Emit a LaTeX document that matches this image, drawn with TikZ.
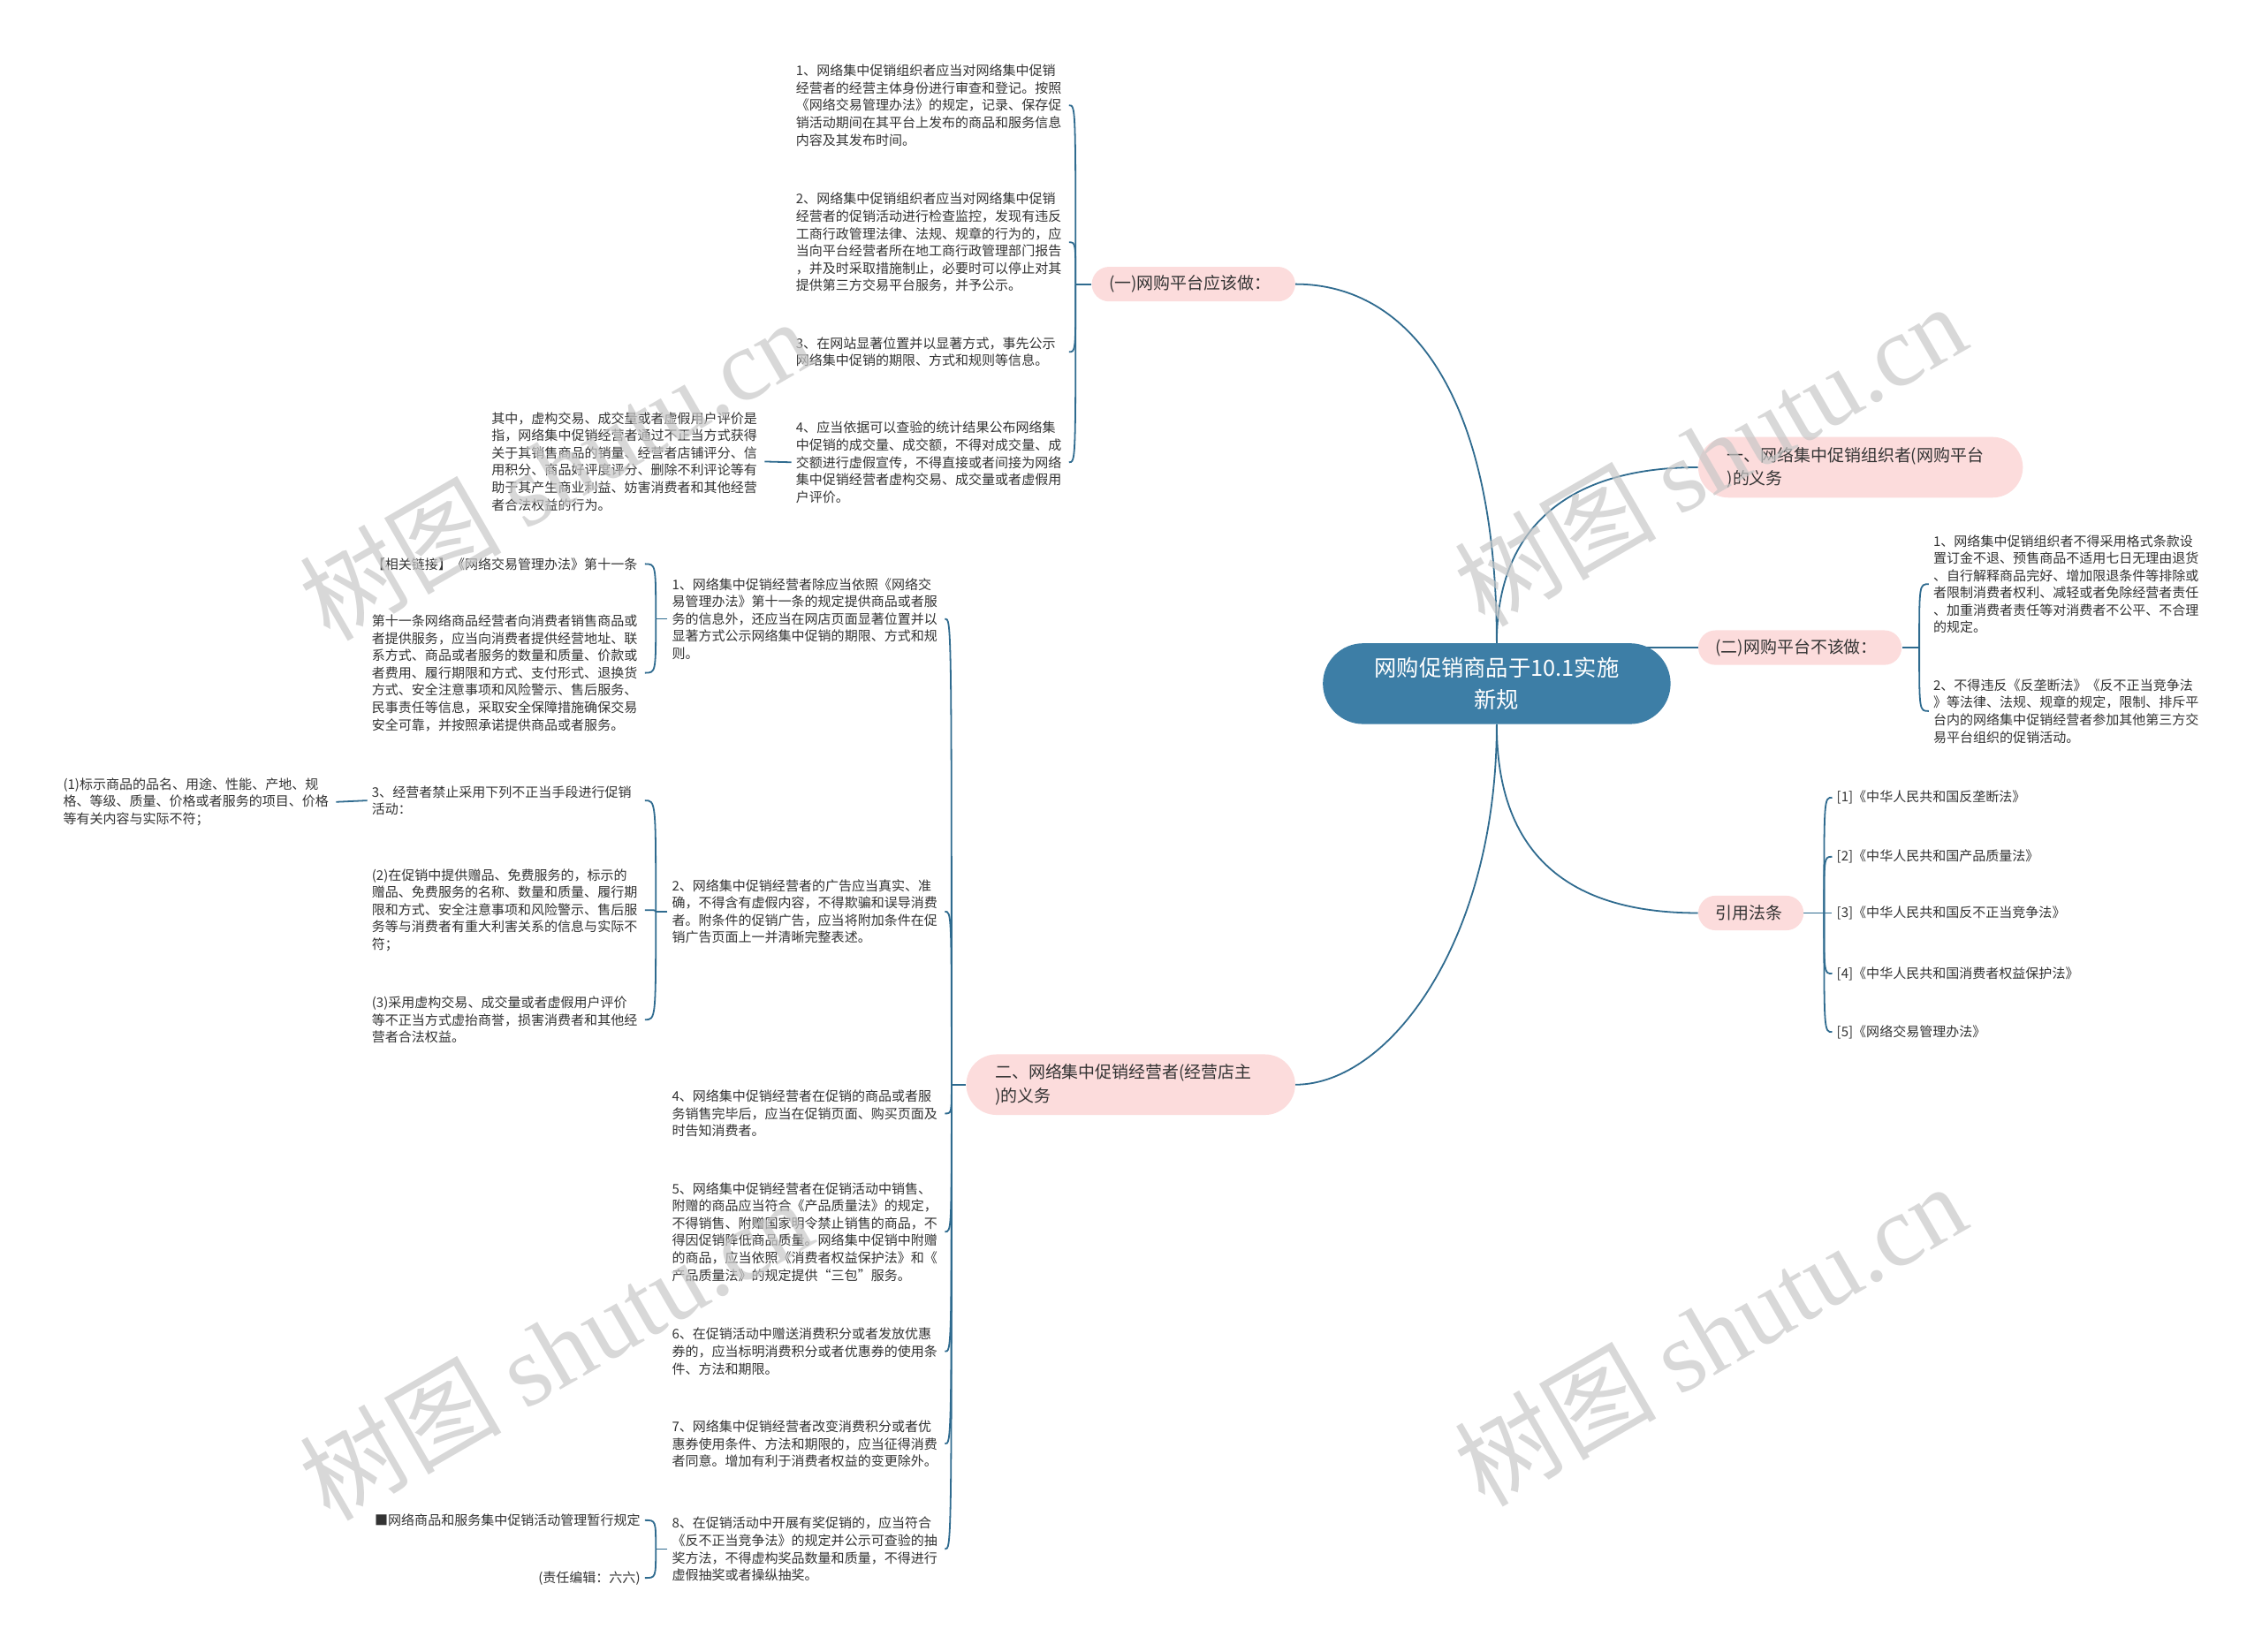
\documentclass[tikz,border=0pt]{standalone}
\usepackage{fontspec}
\setmainfont{Noto Sans CJK SC}
\newfontfamily\wmlatin{Liberation Serif}
\usetikzlibrary{backgrounds}
\definecolor{linec}{HTML}{2F6B8F}
\definecolor{rootc}{HTML}{3D7EA6}
\definecolor{pinkc}{HTML}{FCDCDC}
\definecolor{txtc}{HTML}{333333}
\definecolor{wmc}{HTML}{C8C8C8}
\begin{document}
\begin{tikzpicture}[x=1pt,y=-1pt,
  small/.style={font=\fontsize{9.2}{12}\selectfont, text=txtc, align=left, text width=186pt, inner xsep=3pt, inner ysep=1pt},
  smallr/.style={small, align=right},
  pinkbox/.style={fill=pinkc, rounded corners=12pt, font=\fontsize{11.6}{16}\selectfont, text=txtc, align=left, inner xsep=12pt, inner ysep=0pt, minimum height=24pt},
  pinkbig/.style={pinkbox, rounded corners=21pt, minimum height=42pt, inner xsep=20pt},
  rootbox/.style={fill=rootc, rounded corners=28pt, minimum width=241pt, minimum height=56pt, text=white, font=\fontsize{15.5}{22}\selectfont, align=center, inner sep=0pt},
  link/.style={draw=linec, line width=1.1pt},
  wm/.style={text=wmc, font=\fontsize{70}{70}\selectfont, rotate=30, opacity=0.7}]
\useasboundingbox (0,0) rectangle (1568,1145);

% root and main branches
\node[rootbox] (root) at (1037.5,474) {网购促销商品于10.1实施\\新规};
\node[pinkbox, anchor=east, text width=117pt] (P1) at (898,197) {(一)网购平台应该做：};
\node[pinkbig, anchor=west, text width=185pt] (P2) at (1177,324) {一、网络集中促销组织者(网购平台\\)的义务};
\node[pinkbox, anchor=west, text width=117pt] (P3) at (1177,449) {(二)网购平台不该做：};
\node[pinkbox, anchor=west, text width=49pt] (P4) at (1177,633) {引用法条};
\node[pinkbig, anchor=east, text width=188pt] (P5) at (898,752) {二、网络集中促销经营者(经营店主\\)的义务};

% group A
\node[small, anchor=east] (A1) at (741,73) {1、网络集中促销组织者应当对网络集中促销\\经营者的经营主体身份进行审查和登记。按照\\《网络交易管理办法》的规定，记录、保存促\\销活动期间在其平台上发布的商品和服务信息\\内容及其发布时间。};
\node[small, anchor=east] (A2) at (741,168) {2、网络集中促销组织者应当对网络集中促销\\经营者的促销活动进行检查监控，发现有违反\\工商行政管理法律、法规、规章的行为的，应\\当向平台经营者所在地工商行政管理部门报告\\，并及时采取措施制止，必要时可以停止对其\\提供第三方交易平台服务，并予公示。};
\node[small, anchor=east] (A3) at (741,244) {3、在网站显著位置并以显著方式，事先公示\\网络集中促销的期限、方式和规则等信息。};
\node[small, anchor=east] (A4) at (741,320.5) {4、应当依据可以查验的统计结果公布网络集\\中促销的成交量、成交额，不得对成交量、成\\交额进行虚假宣传，不得直接或者间接为网络\\集中促销经营者虚构交易、成交量或者虚假用\\户评价。};
\node[small, anchor=east] (A4L) at (530,320) {其中，虚构交易、成交量或者虚假用户评价是\\指，网络集中促销经营者通过不正当方式获得\\关于其销售商品的销量、经营者店铺评分、信\\用积分、商品好评度评分、删除不利评论等有\\助于其产生商业利益、妨害消费者和其他经营\\者合法权益的行为。};

% group B
\node[small, anchor=east] (B1) at (655,429) {1、网络集中促销经营者除应当依照《网络交\\易管理办法》第十一条的规定提供商品或者服\\务的信息外，还应当在网店页面显著位置并以\\显著方式公示网络集中促销的期限、方式和规\\则。};
\node[small, anchor=east] (B2) at (655,632) {2、网络集中促销经营者的广告应当真实、准\\确，不得含有虚假内容，不得欺骗和误导消费\\者。附条件的促销广告，应当将附加条件在促\\销广告页面上一并清晰完整表述。};
\node[small, anchor=east] (B4) at (655,772) {4、网络集中促销经营者在促销的商品或者服\\务销售完毕后，应当在促销页面、购买页面及\\时告知消费者。};
\node[small, anchor=east] (B5) at (655,854) {5、网络集中促销经营者在促销活动中销售、\\附赠的商品应当符合《产品质量法》的规定，\\不得销售、附赠国家明令禁止销售的商品，不\\得因促销降低商品质量。网络集中促销中附赠\\的商品，应当依照《消费者权益保护法》和《\\产品质量法》的规定提供“三包”服务。};
\node[small, anchor=east] (B6) at (655,937) {6、在促销活动中赠送消费积分或者发放优惠\\券的，应当标明消费积分或者优惠券的使用条\\件、方法和期限。};
\node[small, anchor=east] (B7) at (655,1001) {7、网络集中促销经营者改变消费积分或者优\\惠券使用条件、方法和期限的，应当征得消费\\者同意。增加有利于消费者权益的变更除外。};
\node[small, anchor=east] (B8) at (655,1074) {8、在促销活动中开展有奖促销的，应当符合\\《反不正当竞争法》的规定并公示可查验的抽\\奖方法，不得虚构奖品数量和质量，不得进行\\虚假抽奖或者操纵抽奖。};

% left of B1
\node[small, anchor=east] (L1) at (447,391) {【相关链接】《网络交易管理办法》第十一条};
\node[small, anchor=east] (L2) at (447,466.5) {第十一条网络商品经营者向消费者销售商品或\\者提供服务，应当向消费者提供经营地址、联\\系方式、商品或者服务的数量和质量、价款或\\者费用、履行期限和方式、支付形式、退换货\\方式、安全注意事项和风险警示、售后服务、\\民事责任等信息，采取安全保障措施确保交易\\安全可靠，并按照承诺提供商品或者服务。};

% left of B2
\node[small, anchor=east] (G3) at (447,555) {3、经营者禁止采用下列不正当手段进行促销\\活动：};
\node[small, anchor=east] (G2) at (447,631) {(2)在促销中提供赠品、免费服务的，标示的\\赠品、免费服务的名称、数量和质量、履行期\\限和方式、安全注意事项和风险警示、售后服\\务等与消费者有重大利害关系的信息与实际不\\符；};
\node[small, anchor=east] (G4) at (447,707) {(3)采用虚构交易、成交量或者虚假用户评价\\等不正当方式虚抬商誉，损害消费者和其他经\\营者合法权益。};
\node[small, anchor=east] (G1) at (233,556) {(1)标示商品的品名、用途、性能、产地、规\\格、等级、质量、价格或者服务的项目、价格\\等有关内容与实际不符；};

% left of B8
\node[smallr, anchor=east] (M1) at (447,1054) {■网络商品和服务集中促销活动管理暂行规定};
\node[smallr, anchor=east] (M2) at (447,1094) {(责任编辑：六六)};

% group C
\node[small, anchor=west] (C1) at (1337,405) {1、网络集中促销组织者不得采用格式条款设\\置订金不退、预售商品不适用七日无理由退货\\、自行解释商品完好、增加限退条件等排除或\\者限制消费者权利、减轻或者免除经营者责任\\、加重消费者责任等对消费者不公平、不合理\\的规定。};
\node[small, anchor=west] (C2) at (1337,493) {2、不得违反《反垄断法》《反不正当竞争法\\》等法律、法规、规章的规定，限制、排斥平\\台内的网络集中促销经营者参加其他第三方交\\易平台组织的促销活动。};

% laws
\node[small, anchor=west] (R1) at (1270,553) {[1]《中华人民共和国反垄断法》};
\node[small, anchor=west] (R2) at (1270,594) {[2]《中华人民共和国产品质量法》};
\node[small, anchor=west] (R3) at (1270,633) {[3]《中华人民共和国反不正当竞争法》};
\node[small, anchor=west] (R4) at (1270,675) {[4]《中华人民共和国消费者权益保护法》};
\node[small, anchor=west] (R5) at (1270,715.5) {[5]《网络交易管理办法》};

% trunk points
\coordinate (tA) at ([xshift=-11pt]P1.west);
\coordinate (tB) at ([xshift=-10pt]P5.west);
\coordinate (tL) at ([xshift=-8pt]B1.west);
\coordinate (tG) at ([xshift=-8pt]B2.west);
\coordinate (tM) at ([xshift=-8pt]B8.west);
\coordinate (tC) at ([xshift=12pt]P3.east);
\coordinate (tR) at ([xshift=14pt]P4.east);

\begin{scope}[on background layer]
\fill[white] (0,0) rectangle (1568,1145);
% root branches
\draw[link] (root.north) .. controls +(0,-170) and +(80,0) .. (P1.east);
\draw[link] (root.north) .. controls +(0,-80) and +(-90,0) .. (P2.west);
\draw[link] (root.center |- P3.west) -- (P3.west);
\draw[link] (root.south) .. controls +(0,90) and +(-90,0) .. (P4.west);
\draw[link] (root.south) .. controls +(0,150) and +(65,0) .. (P5.east);
% group A
\draw[link] (P1.west) -- (tA);
\foreach \n in {A1,A2,A3,A4} \draw[link] (tA) .. controls (tA |- \n.east) .. (\n.east);
\draw[link] (A4L.east) -- (A4.west);
% group B
\draw[link] (P5.west) -- (tB);
\foreach \n in {B1,B2,B4,B5,B6,B7,B8} \draw[link] (tB) .. controls (tB |- \n.east) .. (\n.east);
\draw[link] (B1.west) -- (tL);
\foreach \n in {L1,L2} \draw[link] (tL) .. controls (tL |- \n.east) .. (\n.east);
\draw[link] (B2.west) -- (tG);
\foreach \n in {G3,G2,G4} \draw[link] (tG) .. controls (tG |- \n.east) .. (\n.east);
\draw[link] (G1.east) -- (G3.west);
\draw[link] (B8.west) -- (tM);
\foreach \n in {M1,M2} \draw[link] (tM) .. controls (tM |- \n.east) .. (\n.east);
% group C
\draw[link] (P3.east) -- (tC);
\foreach \n in {C1,C2} \draw[link] (tC) .. controls (tC |- \n.west) .. (\n.west);
% laws
\draw[link] (P4.east) -- (tR);
\foreach \n in {R1,R2,R3,R4,R5} \draw[link] (tR) .. controls (tR |- \n.west) .. (\n.west);
\end{scope}

% watermarks
\node[wm] (wm1) at (385,325) {树图 {\wmlatin shutu.cn}};
\node[wm] (wm2) at (1185,315) {树图 {\wmlatin shutu.cn}};
\node[wm] (wm3) at (385,935) {树图 {\wmlatin shutu.cn}};
\node[wm] (wm4) at (1185,925) {树图 {\wmlatin shutu.cn}};
\end{tikzpicture}
\end{document}
